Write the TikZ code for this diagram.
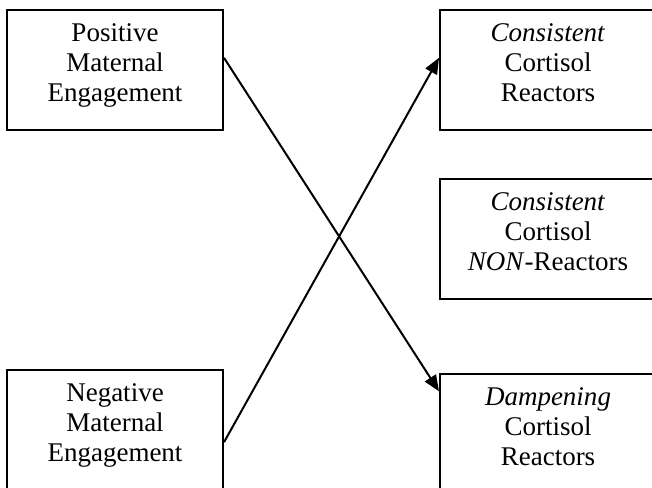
\documentclass[tikz,border=0pt]{standalone}
\usepackage{fontspec}
\setmainfont{Liberation Serif}
\usepackage{tikz}
\usetikzlibrary{arrows.meta, positioning, calc}
\tikzset{
  grpbox/.style  = {draw=black, line width=1pt, align=center,
                    minimum width=108pt, minimum height=60pt, inner sep=0pt,
                    text depth=7pt, font=\fontsize{13.5}{15}\selectfont},
  link/.style    = {-{Triangle[length=8pt, width=6.5pt]}, line width=1pt},
}
\begin{document}
\begin{tikzpicture}[x=0.5pt, y=-0.5pt, node distance=107.5pt]
        \useasboundingbox (0,0) rectangle (652,487);
        \node[grpbox] (pos) at (115,70) {Positive\\Maternal\\Engagement};
        \node[grpbox, right=of pos] (ccr) {\textit{Consistent}\\Cortisol\\Reactors};
        \node[grpbox, below=23.5pt of ccr] (cnr) {\textit{Consistent}\\Cortisol\\\textit{NON}-Reactors};
        \node[grpbox, below=36.5pt of cnr] (dcr) {\textit{Dampening}\\Cortisol\\Reactors};
        \node[grpbox] (neg) at (115,430) {Negative\\Maternal\\Engagement};
        \draw[link] ($(pos.north east)!0.4!(pos.south east)$) -- ($(dcr.north west)!0.15!(dcr.south west)$);
        \draw[link] ($(neg.north east)!0.6!(neg.south east)$) -- ($(ccr.north west)!0.4!(ccr.south west)$);
    \end{tikzpicture}
\end{document}
